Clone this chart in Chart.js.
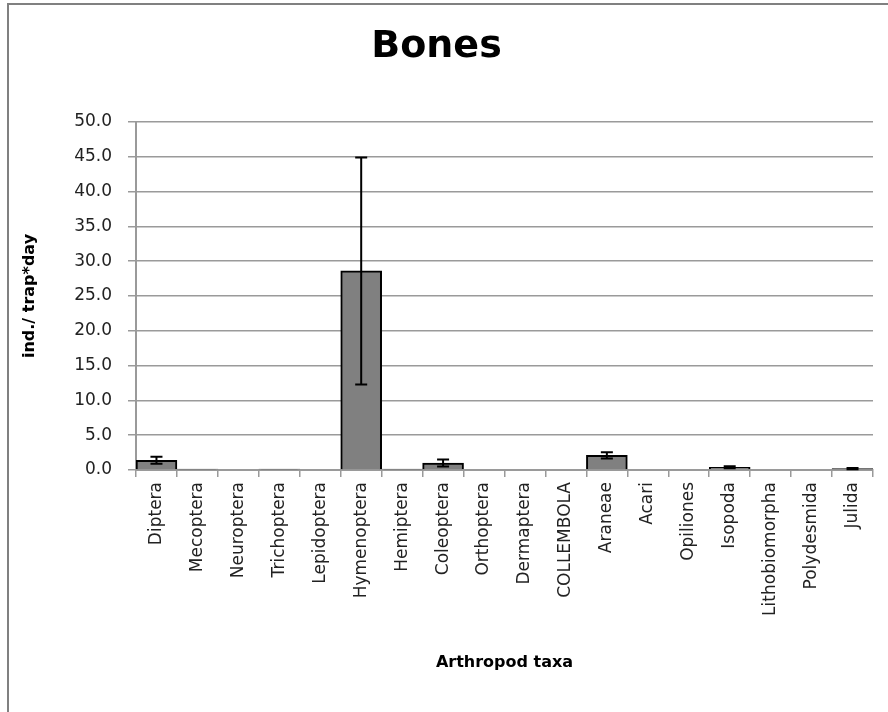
<!DOCTYPE html>
<html>
<head>
<meta charset="utf-8">
<script src="https://cdn.jsdelivr.net/npm/chart.js@4"></script>
<style>
  html, body { margin: 0; padding: 0; background: #fff; }
  canvas { display: block; }
</style>
</head>
<body>
<canvas id="chart" width="888" height="712"></canvas>
<script>
// ===== Datos =====
const taxa = ['Diptera', 'Mecoptera', 'Neuroptera', 'Trichoptera', 'Lepidoptera', 'Hymenoptera', 'Hemiptera',
  'Coleoptera', 'Orthoptera', 'Dermaptera', 'COLLEMBOLA', 'Araneae', 'Acari', 'Opiliones', 'Isopoda',
  'Lithobiomorpha', 'Polydesmida', 'Julida'];
const meanValues = [1.4, 0.12, 0, 0.12, 0, 28.6, 0.12, 1.0, 0, 0, 0, 2.1, 0, 0, 0.4, 0, 0, 0.2];
const errValues  = [0.5, 0, 0, 0, 0, 16.3, 0, 0.5, 0, 0, 0, 0.45, 0, 0, 0.15, 0, 0, 0.1];
const yTicks = [0, 5, 10, 15, 20, 25, 30, 35, 40, 45, 50];

const FONT = "'DejaVu Sans', sans-serif";
const GRID = '#9a9a9a';

// marco gris (arriba e izquierda) como en la figura
const framePlugin = {
  id: 'frame',
  beforeDraw(chart) {
    const ctx = chart.ctx;
    ctx.save();
    ctx.fillStyle = '#fff';
    ctx.fillRect(0, 0, chart.width, chart.height);
    ctx.strokeStyle = '#808080';
    ctx.lineWidth = 2;
    ctx.beginPath();
    ctx.moveTo(8, chart.height);
    ctx.lineTo(8, 4);
    ctx.lineTo(chart.width, 4);
    ctx.stroke();
    ctx.restore();
  }
};

// barras de error
const errorBarPlugin = {
  id: 'errorBars',
  afterDatasetsDraw(chart) {
    const ctx = chart.ctx;
    const y = chart.scales.y;
    const meta = chart.getDatasetMeta(0);
    ctx.save();
    ctx.strokeStyle = '#000';
    ctx.lineWidth = 2;
    meta.data.forEach((bar, i) => {
      const e = errValues[i];
      if (!e) return;
      const v = meanValues[i];
      const yTop = y.getPixelForValue(v + e);
      const yBot = y.getPixelForValue(Math.max(v - e, 0));
      const x = bar.x;
      ctx.beginPath();
      ctx.moveTo(x, yTop); ctx.lineTo(x, yBot);
      ctx.moveTo(x - 6, yTop); ctx.lineTo(x + 6, yTop);
      ctx.moveTo(x - 6, yBot); ctx.lineTo(x + 6, yBot);
      ctx.stroke();
    });
    ctx.restore();
  }
};

new Chart(document.getElementById('chart'), {
  type: 'bar',
  data: {
    labels: taxa,
    datasets: [{
      data: meanValues,
      backgroundColor: '#808080',
      borderColor: '#000',
      borderWidth: 2,
      categoryPercentage: 1,
      barPercentage: 1
    }]
  },
  options: {
    responsive: false,
    animation: false,
    layout: { padding: { left: 0, right: 15, top: 0, bottom: 0 } },
    plugins: {
      legend: { display: false },
      tooltip: { enabled: false },
      title: {
        display: true,
        text: 'Bones',
        color: '#000',
        font: { family: FONT, size: 38, weight: 'bold', lineHeight: 1.2 },
        padding: { top: 24, bottom: 52.4 }
      }
    },
    scales: {
      y: {
        min: 0, max: 50,
        afterFit: s => { s.width = 136; },
        afterBuildTicks: s => { s.ticks = yTicks.map(v => ({ value: v })); },
        ticks: { color: '#222', padding: 16, font: { family: FONT, size: 17 }, callback: v => Number(v).toFixed(1) },
        grid: { color: GRID, lineWidth: 1.5, tickLength: 8 },
        border: { color: GRID, width: 2 },
        title: {
          display: true, text: 'ind./ trap*day', color: '#000',
          font: { family: FONT, size: 16, weight: 'bold', lineHeight: 1.2 },
          padding: { top: 20 }
        }
      },
      x: {
        afterFit: s => { s.height = 242; },
        ticks: { color: '#222', padding: 5, minRotation: 90, maxRotation: 90, autoSkip: false, font: { family: FONT, size: 17 } },
        grid: { offset: true, drawOnChartArea: false, drawTicks: true, tickLength: 7, color: GRID, lineWidth: 1.5 },
        border: { color: GRID, width: 2 },
        title: {
          display: true, text: 'Arthropod taxa', color: '#000',
          font: { family: FONT, size: 16, weight: 'bold', lineHeight: 1.2 },
          padding: { bottom: 39.4 }
        }
      }
    }
  },
  plugins: [framePlugin, errorBarPlugin]
});
</script>
</body>
</html>
